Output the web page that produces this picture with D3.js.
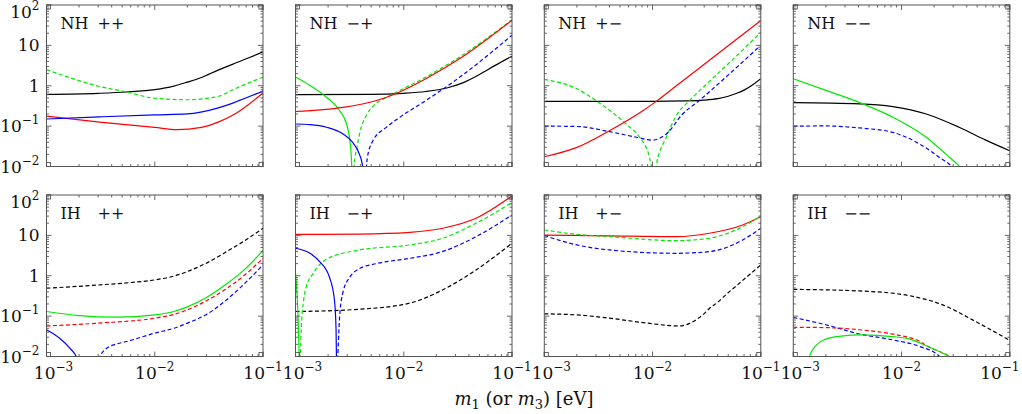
<!DOCTYPE html>
<html>
<head>
<meta charset="utf-8">
<script src="https://cdn.jsdelivr.net/npm/d3@7"></script>
<style>
  body { margin: 0; background: #fff; }
  svg text { font-family: "DejaVu Serif", serif; fill: #111; }
</style>
</head>
<body>
<div id="viz_container" style="width:1022px;height:414px"></div>
<script>
// ---- data: [m1 (eV), value] ----
// NH ++
const nhPP_black = [[0.001,0.61],[0.003,0.65],[0.0055,0.70],[0.01,0.80],[0.015,0.98],[0.02,1.23],[0.027,1.6],[0.038,2.4],[0.055,3.6],[0.075,5.0],[0.1,6.9]];
const nhPP_green = [[0.001,2.5],[0.0031,0.96],[0.0055,0.70],[0.01,0.49],[0.02,0.45],[0.038,0.54],[0.055,0.84],[0.1,1.64]];
const nhPP_blue = [[0.001,0.15],[0.0031,0.17],[0.01,0.19],[0.02,0.20],[0.038,0.28],[0.055,0.39],[0.1,0.74]];
const nhPP_red = [[0.001,0.176],[0.0031,0.125],[0.01,0.093],[0.016,0.082],[0.027,0.093],[0.038,0.124],[0.055,0.20],[0.1,0.66]];
// NH -+
const nhMP_black = [[0.001,0.6],[0.005,0.61],[0.01,0.65],[0.016,0.72],[0.025,0.88],[0.035,1.18],[0.05,1.9],[0.07,3.2],[0.1,5.4]];
const nhMP_red = [[0.001,0.23],[0.00275,0.29],[0.0056,0.43],[0.008,0.60],[0.016,1.49],[0.033,4.7],[0.1,42]];
const nhMP_greenSolid = [[0.001,1.64],[0.00136,1.02],[0.00193,0.52],[0.00256,0.24],[0.00296,0.113],[0.00318,0.0435],[0.0033,0.012],[0.00334,0.002]];
const nhMP_greenDash = [[0.00336,0.002],[0.0035,0.012],[0.0037,0.03],[0.0039,0.064],[0.0045,0.18],[0.0052,0.31],[0.0065,0.47],[0.008,0.63],[0.016,1.64],[0.033,5.2],[0.1,43]];
const nhMP_blueSolid = [[0.001,0.113],[0.00136,0.109],[0.00193,0.094],[0.00275,0.064],[0.00336,0.040],[0.0039,0.020],[0.00415,0.011],[0.0043,0.003]];
const nhMP_blueDash = [[0.0044,0.002],[0.0046,0.016],[0.0052,0.044],[0.0069,0.093],[0.0092,0.166],[0.016,0.43],[0.033,1.64],[0.1,17.9]];
// NH +-
const nhPM_black = [[0.001,0.41],[0.01,0.41],[0.02,0.42],[0.03,0.44],[0.04,0.48],[0.05,0.55],[0.06,0.65],[0.07,0.78],[0.085,1.08],[0.1,1.5]];
const nhPM_red = [[0.001,0.0174],[0.002,0.0297],[0.004,0.077],[0.0082,0.243],[0.0108,0.41],[0.0165,0.99],[0.0335,4.26],[0.1,41]];
const nhPM_green = [[0.001,1.44],[0.002,0.84],[0.003,0.43],[0.0057,0.113],[0.0076,0.053],[0.009,0.0245],[0.0104,0.007],[0.0112,0.0168],[0.0134,0.053],[0.0165,0.18],[0.022,0.43],[0.0335,1.28],[0.048,3.15],[0.1,21]];
const nhPM_blue = [[0.001,0.1],[0.002,0.098],[0.004,0.073],[0.0071,0.053],[0.01,0.045],[0.0134,0.064],[0.019,0.20],[0.027,0.43],[0.048,1.67],[0.1,10.1]];
// NH --
const nhMM_black = [[0.001,0.38],[0.0041,0.356],[0.0083,0.305],[0.0169,0.20],[0.034,0.094],[0.06,0.045],[0.1,0.0245]];
const nhMM_green = [[0.001,1.49],[0.002,0.77],[0.0044,0.356],[0.0083,0.166],[0.0169,0.053],[0.0258,0.020],[0.035,0.0095],[0.045,0.004]];
const nhMM_blue = [[0.001,0.1],[0.002,0.101],[0.0041,0.09],[0.0083,0.070],[0.0147,0.036],[0.0224,0.0168],[0.0297,0.0095],[0.036,0.005]];
// IH ++
const ihPP_black = [[0.001,0.49],[0.003,0.59],[0.006,0.68],[0.01,0.79],[0.015,0.98],[0.02,1.27],[0.03,2.05],[0.045,3.8],[0.065,6.9],[0.1,15]];
const ihPP_green = [[0.001,0.13],[0.002,0.103],[0.0045,0.094],[0.01,0.107],[0.015,0.13],[0.02,0.17],[0.03,0.29],[0.045,0.6],[0.065,1.3],[0.1,4.2]];
const ihPP_red = [[0.001,0.057],[0.003,0.067],[0.01,0.089],[0.015,0.11],[0.02,0.143],[0.03,0.24],[0.045,0.46],[0.065,0.95],[0.1,2.7]];
const ihPP_blueSolid = [[0.001,0.046],[0.00133,0.028],[0.00165,0.016],[0.0019,0.0095],[0.0021,0.004]];
const ihPP_blueDash = [[0.0029,0.004],[0.0031,0.0095],[0.0036,0.016],[0.0045,0.0206],[0.0055,0.0235],[0.01,0.038],[0.015,0.05],[0.02,0.067],[0.03,0.11],[0.045,0.24],[0.065,0.58],[0.1,1.85]];
// IH -+
const ihMP_red = [[0.001,10.6],[0.0039,10.8],[0.0114,11.9],[0.023,15],[0.0465,26.5],[0.1,95]];
const ihMP_greenSolid = [[0.001,1.15],[0.00104,0.25],[0.00107,0.031],[0.00109,0.004]];
const ihMP_greenDash = [[0.0011,0.004],[0.00113,0.046],[0.00119,0.25],[0.00126,0.54],[0.00146,1.15],[0.0019,2.5],[0.0039,4.35],[0.0114,5.8],[0.023,8.5],[0.0465,20],[0.1,65]];
const ihMP_blueSolid = [[0.001,4.8],[0.00136,3.6],[0.00167,2.24],[0.00206,0.92],[0.00229,0.25],[0.00237,0.046],[0.0024,0.004]];
const ihMP_blueDash = [[0.00243,0.004],[0.00256,0.1],[0.00275,0.4],[0.0032,0.95],[0.0039,1.5],[0.0056,2.0],[0.0114,2.7],[0.023,4.0],[0.0465,9.3],[0.1,32]];
const ihMP_black = [[0.001,0.13],[0.0039,0.148],[0.0114,0.21],[0.023,0.45],[0.0465,1.39],[0.1,6.4]];
// IH +-
const ihPM_red = [[0.001,10.2],[0.004,9.7],[0.0165,9.3],[0.0335,11.3],[0.068,18.1],[0.1,29]];
const ihPM_green = [[0.001,13.6],[0.002,10.6],[0.004,9.3],[0.0165,7.4],[0.0335,8.5],[0.068,16.4],[0.1,30]];
const ihPM_blue = [[0.001,9.9],[0.002,5.8],[0.004,4.35],[0.0165,3.6],[0.0335,3.96],[0.068,7.7],[0.1,15]];
const ihPM_black = [[0.001,0.114],[0.002,0.107],[0.004,0.089],[0.0082,0.069],[0.0177,0.057],[0.022,0.066],[0.0252,0.081],[0.03,0.115],[0.0335,0.155],[0.04,0.22],[0.0477,0.34],[0.065,0.69],[0.1,1.85]];
// IH --
const ihMM_black = [[0.001,0.46],[0.0041,0.42],[0.0119,0.32],[0.024,0.19],[0.0486,0.073],[0.1,0.025]];
const ihMM_red = [[0.001,0.053],[0.002,0.052],[0.0041,0.046],[0.0083,0.036],[0.0103,0.032],[0.0147,0.0238],[0.0169,0.0186],[0.024,0.0122],[0.0277,0.0098],[0.031,0.006]];
const ihMM_greenSolid = [[0.00135,0.004],[0.0014,0.0095],[0.00164,0.0195],[0.002,0.027],[0.0029,0.0325],[0.0041,0.0343],[0.0083,0.031],[0.0119,0.027],[0.0169,0.0184],[0.024,0.0121],[0.0277,0.0097],[0.031,0.006]];
const ihMM_greenDash = [[0.001,0.0115],[0.00106,0.006]];
const ihMM_blue = [[0.001,0.093],[0.002,0.061],[0.0041,0.036],[0.0083,0.0258],[0.0147,0.0177],[0.0224,0.0101],[0.026,0.006]];

const xTicks = [1e-3, 1e-2, 1e-1];
const yTicks = [1e-2, 1e-1, 1, 10, 100];

// ---- panel layout ----
const COLORS = { k: "#000000", r: "#ff0000", g: "#00e800", b: "#0000ff" };
const LEFTS = [46.5, 295.5, 544.3, 793.3];
const TOPS = [5, 195];
const PW = 216.5, PH = 161.5;

const panels = [
  { row: 0, col: 0, tag: "NH", signs: "++", series: [
    { d: nhPP_black, c: "k" }, { d: nhPP_green, c: "g", dash: true }, { d: nhPP_red, c: "r" }, { d: nhPP_blue, c: "b" } ] },
  { row: 0, col: 1, tag: "NH", signs: "\u2212+", series: [
    { d: nhMP_black, c: "k" }, { d: nhMP_greenSolid, c: "g" }, { d: nhMP_greenDash, c: "g", dash: true },
    { d: nhMP_red, c: "r" }, { d: nhMP_blueSolid, c: "b" }, { d: nhMP_blueDash, c: "b", dash: true } ] },
  { row: 0, col: 2, tag: "NH", signs: "+\u2212", series: [
    { d: nhPM_black, c: "k" }, { d: nhPM_green, c: "g", dash: true }, { d: nhPM_blue, c: "b", dash: true }, { d: nhPM_red, c: "r" } ] },
  { row: 0, col: 3, tag: "NH", signs: "\u2212\u2212", series: [
    { d: nhMM_black, c: "k" }, { d: nhMM_blue, c: "b", dash: true }, { d: nhMM_green, c: "g" } ] },
  { row: 1, col: 0, tag: "IH", signs: "++", series: [
    { d: ihPP_black, c: "k", dash: true }, { d: ihPP_red, c: "r", dash: true }, { d: ihPP_green, c: "g" },
    { d: ihPP_blueSolid, c: "b" }, { d: ihPP_blueDash, c: "b", dash: true } ] },
  { row: 1, col: 1, tag: "IH", signs: "\u2212+", series: [
    { d: ihMP_black, c: "k", dash: true }, { d: ihMP_greenSolid, c: "g" }, { d: ihMP_greenDash, c: "g", dash: true },
    { d: ihMP_blueSolid, c: "b" }, { d: ihMP_blueDash, c: "b", dash: true }, { d: ihMP_red, c: "r" } ] },
  { row: 1, col: 2, tag: "IH", signs: "+\u2212", series: [
    { d: ihPM_black, c: "k", dash: true }, { d: ihPM_blue, c: "b", dash: true }, { d: ihPM_red, c: "r" }, { d: ihPM_green, c: "g", dash: true } ] },
  { row: 1, col: 3, tag: "IH", signs: "\u2212\u2212", series: [
    { d: ihMM_black, c: "k", dash: true }, { d: ihMM_blue, c: "b", dash: true }, { d: ihMM_red, c: "r", dash: true },
    { d: ihMM_greenSolid, c: "g" }, { d: ihMM_greenDash, c: "g", dash: true } ] }
];

const svg = d3.select("#viz_container").append("svg")
  .attr("width", 1022).attr("height", 414);
const defs = svg.append("defs");

// writes 10^k as text with a raised exponent
function powText(sel, k) {
  if (k === 0) { sel.text("1"); return; }
  if (k === 1) { sel.text("10"); return; }
  sel.append("tspan").text("10");
  sel.append("tspan").attr("font-size", 12).attr("dy", -8)
    .text(k < 0 ? "\u2212" + (-k) : String(k));
}

panels.forEach((p, i) => {
  const x0 = LEFTS[p.col], y0 = TOPS[p.row];
  const x = d3.scaleLog().domain([1e-3, 1e-1]).range([x0, x0 + PW]);
  const y = d3.scaleLog().domain([1e-2, 1e2]).range([y0 + PH, y0]);

  defs.append("clipPath").attr("id", "clip" + i)
    .append("rect").attr("x", x0).attr("y", y0).attr("width", PW).attr("height", PH);

  const g = svg.append("g");
  const curves = g.append("g").attr("clip-path", `url(#clip${i})`);
  const line = d3.line().x(d => x(d[0])).y(d => y(d[1])).curve(d3.curveMonotoneX);

  p.series.forEach(s => {
    curves.append("path").datum(s.d)
      .attr("d", line)
      .attr("fill", "none")
      .attr("stroke", COLORS[s.c])
      .attr("stroke-width", 1.2)
      .attr("stroke-dasharray", s.dash ? "4,2.5" : null);
  });

  // frame + inward ticks on all four sides
  const axisCol = "#555";
  g.append("rect").attr("x", x0).attr("y", y0).attr("width", PW).attr("height", PH)
    .attr("fill", "none").attr("stroke", axisCol).attr("stroke-width", 1);

  const isMajor = v => Math.abs(Math.log10(v) - Math.round(Math.log10(v))) < 1e-6;
  const tk = g.append("g").attr("stroke", axisCol).attr("stroke-width", 0.9);
  x.ticks().forEach(v => {
    const len = isMajor(v) ? 5 : 2.5, px = x(v);
    tk.append("line").attr("x1", px).attr("x2", px).attr("y1", y0 + PH).attr("y2", y0 + PH - len);
    tk.append("line").attr("x1", px).attr("x2", px).attr("y1", y0).attr("y2", y0 + len);
  });
  y.ticks().forEach(v => {
    const len = isMajor(v) ? 5 : 2.5, py = y(v);
    tk.append("line").attr("x1", x0).attr("x2", x0 + len).attr("y1", py).attr("y2", py);
    tk.append("line").attr("x1", x0 + PW).attr("x2", x0 + PW - len).attr("y1", py).attr("y2", py);
  });
  // little corner squares from the boundary ticks
  [[x0, y0], [x0 + PW - 4, y0], [x0, y0 + PH - 4], [x0 + PW - 4, y0 + PH - 4]].forEach(([cx, cy]) => {
    tk.append("rect").attr("x", cx).attr("y", cy).attr("width", 4).attr("height", 4).attr("fill", "none");
  });

  // panel tag
  g.append("text").attr("x", x0 + 14).attr("y", y0 + 24).attr("font-size", 16).text(p.tag);
  g.append("text").attr("x", x0 + 51).attr("y", y0 + 24).attr("font-size", 16).text(p.signs);

  // y labels on the left column
  if (p.col === 0) {
    yTicks.forEach(v => {
      const k = Math.round(Math.log10(v));
      const t = g.append("text").attr("x", x0 - 7)
        .attr("y", y(v) + (k === 2 ? 13 : 6))
        .attr("text-anchor", "end").attr("font-size", 17);
      powText(t, k);
    });
  }
  // x labels on the bottom row
  if (p.row === 1) {
    xTicks.forEach((v, j) => {
      const k = Math.round(Math.log10(v));
      let shift = j === 0 ? 7 : 0;
      if (j === 2 && p.col === 3) shift = -10;
      const t = g.append("text").attr("x", x(v) + shift)
        .attr("y", y0 + PH + 22)
        .attr("text-anchor", "middle").attr("font-size", 17);
      powText(t, k);
    });
  }
});

// x axis title
const title = svg.append("text").attr("x", 524).attr("y", 405)
  .attr("text-anchor", "middle").attr("font-size", 18);
title.append("tspan").attr("font-style", "italic").text("m");
title.append("tspan").attr("font-size", 13).attr("dy", 4).text("1");
title.append("tspan").attr("dy", -4).text(" (or ");
title.append("tspan").attr("font-style", "italic").text("m");
title.append("tspan").attr("font-size", 13).attr("dy", 4).text("3");
title.append("tspan").attr("dy", -4).text(") [eV]");
</script>
</body>
</html>
